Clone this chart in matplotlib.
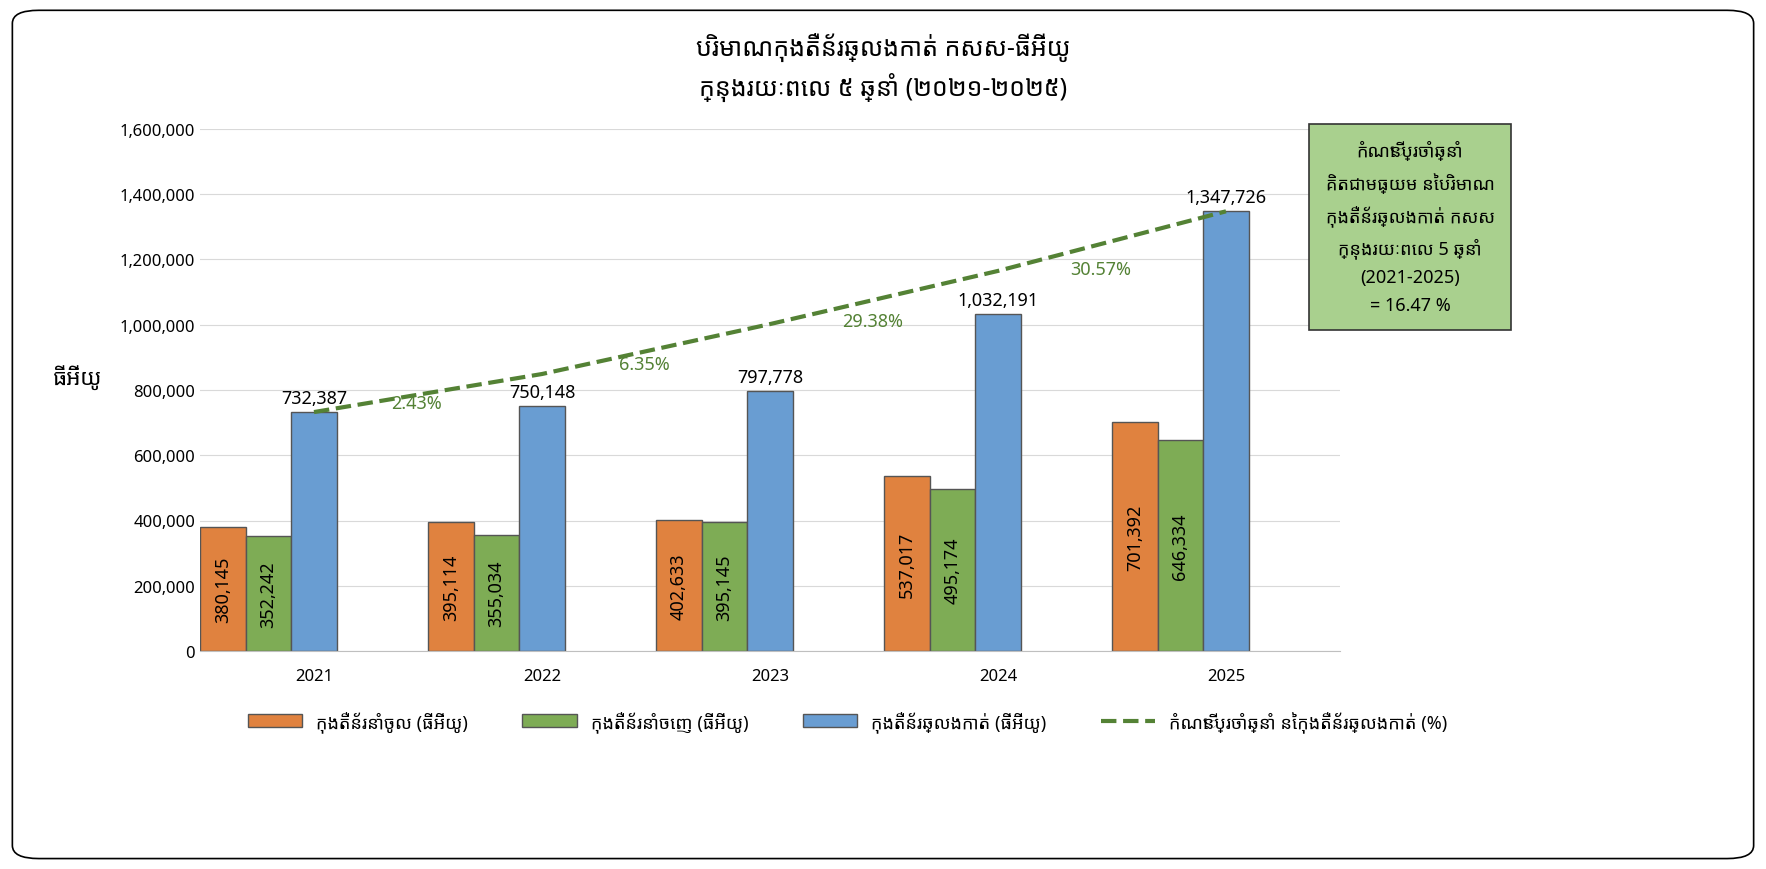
import numpy as np
import matplotlib.pyplot as plt
from matplotlib.patches import FancyBboxPatch
from matplotlib.ticker import FuncFormatter

plt.rcParams['font.family'] = ['Noto Sans Khmer', 'Noto Serif Khmer', 'Khmer OS', 'Noto Sans', 'DejaVu Sans']

years = ['2021', '2022', '2023', '2024', '2025']
imports = [380145, 395114, 402633, 537017, 701392]
exports = [352242, 355034, 395145, 495174, 646334]
transit = [732387, 750148, 797778, 1032191, 1347726]
growth = ['2.43%', '6.35%', '29.38%', '30.57%']
growth_y = [760000, 880000, 1010000, 1170000]
trend = [732387, 849000, 1002000, 1165000, 1347726]

fig = plt.figure(figsize=(17.66, 8.7), dpi=100)
fig.patches.append(FancyBboxPatch((0.007, 0.012), 0.986, 0.975, boxstyle='round,pad=0,rounding_size=0.015',
                                  transform=fig.transFigure, fill=False, ec='black', lw=1.2))
ax = fig.add_axes([200/1766, 1-652/870, 1140/1766, 522/870])

x = np.arange(len(years))
w = 0.2
b1 = ax.bar(x-0.4, imports, w, color='#E0823F', ec='#555555', lw=1, label='កុងតឺន័រនាំចូល (ធីអ៊ីយូ)')
b2 = ax.bar(x-0.2, exports, w, color='#7EAC55', ec='#555555', lw=1, label='កុងតឺន័រនាំចេញ (ធីអ៊ីយូ)')
b3 = ax.bar(x, transit, w, color='#699DD2', ec='#555555', lw=1, label='កុងតឺន័រឆ្លងកាត់ (ធីអ៊ីយូ)')
ln, = ax.plot(x, trend, '--', color='#548235', lw=3, label='កំណើនប្រចាំឆ្នាំ នៃកុងតឺន័រឆ្លងកាត់ (%)')

for bars, vals in ((b1, imports), (b2, exports)):
    for r, v in zip(bars, vals):
        ax.text(r.get_x()+r.get_width()/2, v/2, f'{v:,}', rotation=90, ha='center', va='center', fontsize=13)
for r, v in zip(b3, transit):
    ax.text(r.get_x()+r.get_width()/2, v+15000, f'{v:,}', ha='center', va='bottom', fontsize=13)
for i, g in enumerate(growth):
    ax.text(i+0.45, growth_y[i], g, ha='center', va='center', fontsize=13, color='#548235')

ax.set_xlim(-0.5, 4.5)
ax.set_ylim(0, 1600000)
ax.set_yticks(np.arange(0, 1600001, 200000))
ax.yaxis.set_major_formatter(FuncFormatter(lambda v, p: f'{int(v):,}'))
ax.set_xticks(x)
ax.set_xticklabels(years)
ax.tick_params(labelsize=12, length=0)
ax.tick_params(axis='x', pad=12)
ax.grid(axis='y', color='#d9d9d9')
ax.set_axisbelow(True)
for s in ['top', 'right', 'left']:
    ax.spines[s].set_visible(False)
ax.spines['bottom'].set_color('#bfbfbf')
ax.set_ylabel('ធីអ៊ីយូ', rotation=0, fontsize=16, fontweight='bold', labelpad=30)

fig.text(0.5, 0.945, 'បរិមាណកុងតឺន័រឆ្លងកាត់ កសស-ធីអ៊ីយូ', ha='center', va='center', fontsize=18, fontweight='bold')
fig.text(0.5, 0.9, 'ក្នុងរយៈពេល ៥ ឆ្នាំ (២០២១-២០២៥)', ha='center', va='center', fontsize=18, fontweight='bold')

fig.text(1410/1766, 1-228/870, 'កំណើនប្រចាំឆ្នាំ\nគិតជាមធ្យម នៃបរិមាណ\nកុងតឺន័រឆ្លងកាត់ កសស\nក្នុងរយៈពេល 5 ឆ្នាំ\n(2021-2025)\n= 16.47 %',
         ha='center', va='center', fontsize=13, linespacing=1.7,
         bbox=dict(boxstyle='square,pad=0.9', fc='#A9D08E', ec='#333333', lw=1.2))

fig.legend(handles=[b1, b2, b3, ln], loc='center', bbox_to_anchor=(0.48, 1-722/870), ncol=4,
           frameon=False, fontsize=13, handlelength=3, columnspacing=3)
fig.savefig('out.png', dpi=100)
